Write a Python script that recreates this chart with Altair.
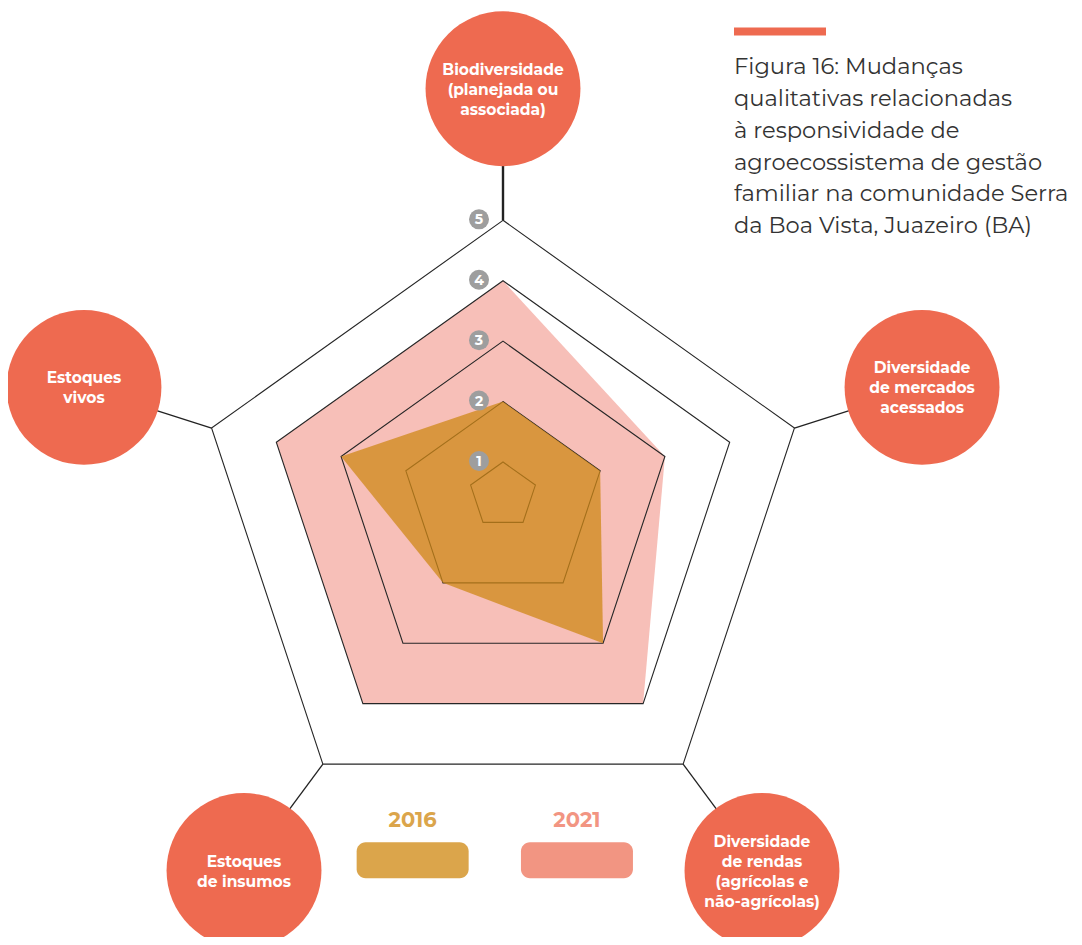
import altair as alt
import pandas as pd

# ---------------- data ----------------
categories = [
    "Biodiversidade\n(planejada ou\nassociada)",
    "Diversidade\nde mercados\nacessados",
    "Diversidade\nde rendas\n(agrícolas e\nnão-agrícolas)",
    "Estoques\nde insumos",
    "Estoques\nvivos",
]
values_2016 = [2, 2, 3, 2, 3]
values_2021 = [4, 3, 4, 4, 4]
levels = [1, 2, 3, 4, 5]
years = ["2016", "2021"]
title_lines = [
    "Figura 16: Mudanças",
    "qualitativas relacionadas",
    "à responsividade de",
    "agroecossistema de gestão",
    "familiar na comunidade Serra",
    "da Boa Vista, Juazeiro (BA)",
]

# ---------------- layout / style ----------------
W, H = 1066, 929
CX, CY = 503.0, 492.2          # page px of radar centre
SX, SY = 68.1, 66.8            # px per level unit
XMIN = (8 - CX) / SX
XMAX = XMIN + W / SX
YMAX = (CY - 8) / SY
YMIN = YMAX - H / SY
BB = 0.0954915                  # pentagon bbox-centering shift
RC = 6.47                       # radial distance of label circles
LH = 20.0                       # label line height (px)
FONT = "Montserrat, DejaVu Sans"
RED = "#EE6A50"
COL_2021_FILL = "#F7BFB8"
COL_2016_FILL = "#CF8817"
LEG_COLORS = ["#DBA54B", "#F29582"]

xs = alt.Scale(domain=[XMIN, XMAX], nice=False, zero=False)
ys = alt.Scale(domain=[YMIN, YMAX], nice=False, zero=False)
X = lambda f: alt.X(f"{f}:Q", scale=xs, axis=None)
Y = lambda f: alt.Y(f"{f}:Q", scale=ys, axis=None)

n = len(categories)
axes_df = pd.DataFrame({"idx": list(range(n)), "label": categories})
label_rows = []
for i, lab in enumerate(categories):
    parts = lab.split("\n")
    for j, p in enumerate(parts):
        label_rows.append({"idx": i, "line": p, "j": j, "m": len(parts)})
label_df = pd.DataFrame(label_rows)
poly_df = pd.DataFrame({
    "idx": list(range(n)) * 2,
    "year": ["2016"] * n + ["2021"] * n,
    "value": values_2016 + values_2021,
})
ring_df = pd.DataFrame([{"level": k, "idx": i} for k in levels for i in range(n)])
lev_df = pd.DataFrame({"level": levels, "txt": [str(k) for k in levels]})
leg_df = pd.DataFrame({"year": years, "i": list(range(len(years)))})
title_df = pd.DataFrame({"t": ["\n".join(title_lines)]})

theta = "datum.idx * 2 * PI / 5"

def radar_xy(ch, rexpr):
    return ch.transform_calculate(
        th=theta
    ).transform_calculate(
        x=f"({rexpr}) * sin(datum.th)",
        y=f"({rexpr}) * (cos(datum.th) - {BB})",
    )

# spokes from outer ring vertex to label circles
spokes = alt.Chart(axes_df).transform_calculate(th=theta).transform_calculate(
    x=f"4.5 * sin(datum.th)",
    y=f"4.5 * (cos(datum.th) - {BB})",
    x2=f"{RC} * sin(datum.th)",
    y2=f"{RC} * cos(datum.th) - {BB} * 4.5",
).mark_rule(color="#222222").encode(
    x=X("x"), y=Y("y"), x2="x2:Q", y2="y2:Q",
    strokeWidth=alt.condition("datum.idx == 0", alt.value(2.4), alt.value(1.3)),
)

circles = alt.Chart(axes_df).transform_calculate(th=theta).transform_calculate(
    x2=f"{RC} * sin(datum.th)",
    y2=f"{RC} * cos(datum.th) - {BB} * 4.5",
).mark_circle(size=24000, color=RED, opacity=1).encode(x=X("x2"), y=Y("y2"))

circ_text = alt.Chart(label_df).transform_calculate(th=theta).transform_calculate(
    x2=f"{RC} * sin(datum.th)",
    y2=f"{RC} * cos(datum.th) - {BB} * 4.5 - (datum.j - (datum.m - 1) / 2) * {LH / SY}",
).mark_text(
    font=FONT, fontSize=15.5, fontWeight="bold", color="white",
    align="center", baseline="middle", dy=1,
).encode(x=X("x2"), y=Y("y2"), text="line:N")

poly21 = radar_xy(alt.Chart(poly_df).transform_filter("datum.year == '2021'"),
                  "datum.value - 0.5").mark_line(
    interpolate="linear-closed", fill=COL_2021_FILL, strokeWidth=0, strokeOpacity=0,
).encode(x=X("x"), y=Y("y"), order="idx:Q")

rings = radar_xy(alt.Chart(ring_df), "datum.level - 0.5").mark_line(
    interpolate="linear-closed", color="#262626", strokeWidth=1.1,
).encode(x=X("x"), y=Y("y"), detail="level:N", order="idx:Q")

poly16 = radar_xy(alt.Chart(poly_df).transform_filter("datum.year == '2016'"),
                  "datum.value - 0.5").mark_line(
    interpolate="linear-closed", fill=COL_2016_FILL, fillOpacity=0.75,
    strokeWidth=0, strokeOpacity=0,
).encode(x=X("x"), y=Y("y"), order="idx:Q")

badge_base = alt.Chart(lev_df).transform_calculate(
    x="0", y=f"(datum.level - 0.5) * (1 - {BB})")
badges = badge_base.mark_circle(size=400, color="#9E9E9E", opacity=1,
                                xOffset=-24, yOffset=-1).encode(x=X("x"), y=Y("y"))
badge_txt = badge_base.mark_text(font=FONT, fontSize=14, fontWeight="bold",
                                 color="white", align="center", baseline="middle",
                                 xOffset=-24, yOffset=0).encode(
    x=X("x"), y=Y("y"), text="txt:N")

leg_scale = alt.Scale(domain=years, range=LEG_COLORS)
leg_base = alt.Chart(leg_df).transform_calculate(
    cx=f"{(494.8 - CX) / SX} + (datum.i - 0.5) * {164.3 / SX}")
leg_rect = leg_base.transform_calculate(
    x="datum.cx - 0.8223", x2="datum.cx + 0.8223",
    y=f"{(CY - 842.3) / SY}", y2=f"{(CY - 878.3) / SY}",
).mark_rect(cornerRadius=9).encode(
    x=X("x"), x2="x2:Q", y=Y("y"), y2="y2:Q",
    fill=alt.Fill("year:N", scale=leg_scale, legend=None))
leg_text = leg_base.transform_calculate(y=f"{(CY - 826.7) / SY}").mark_text(
    font=FONT, fontSize=21, fontWeight="bold", align="center", baseline="alphabetic",
).encode(x=X("cx"), y=Y("y"), text="year:N",
         color=alt.Color("year:N", scale=leg_scale, legend=None))

title_bar = alt.Chart(title_df).mark_rule(color=RED, strokeWidth=8).encode(
    x=alt.value(726), x2=alt.value(818), y=alt.value(23.5))
title_text = alt.Chart(title_df).mark_text(
    font=FONT, fontSize=22.6, color="#333333", align="left", baseline="alphabetic",
    lineBreak="\n", lineHeight=31.8,
).encode(x=alt.value(726), y=alt.value(66.3), text="t:N")

chart = alt.layer(
    spokes, circles, circ_text, poly21, rings, poly16, badges, badge_txt,
    leg_rect, leg_text, title_bar, title_text,
).properties(width=W, height=H, autosize="none", padding=0).configure_view(strokeWidth=0)

chart.save("out.html", embed_options={"renderer": "svg", "actions": False})
